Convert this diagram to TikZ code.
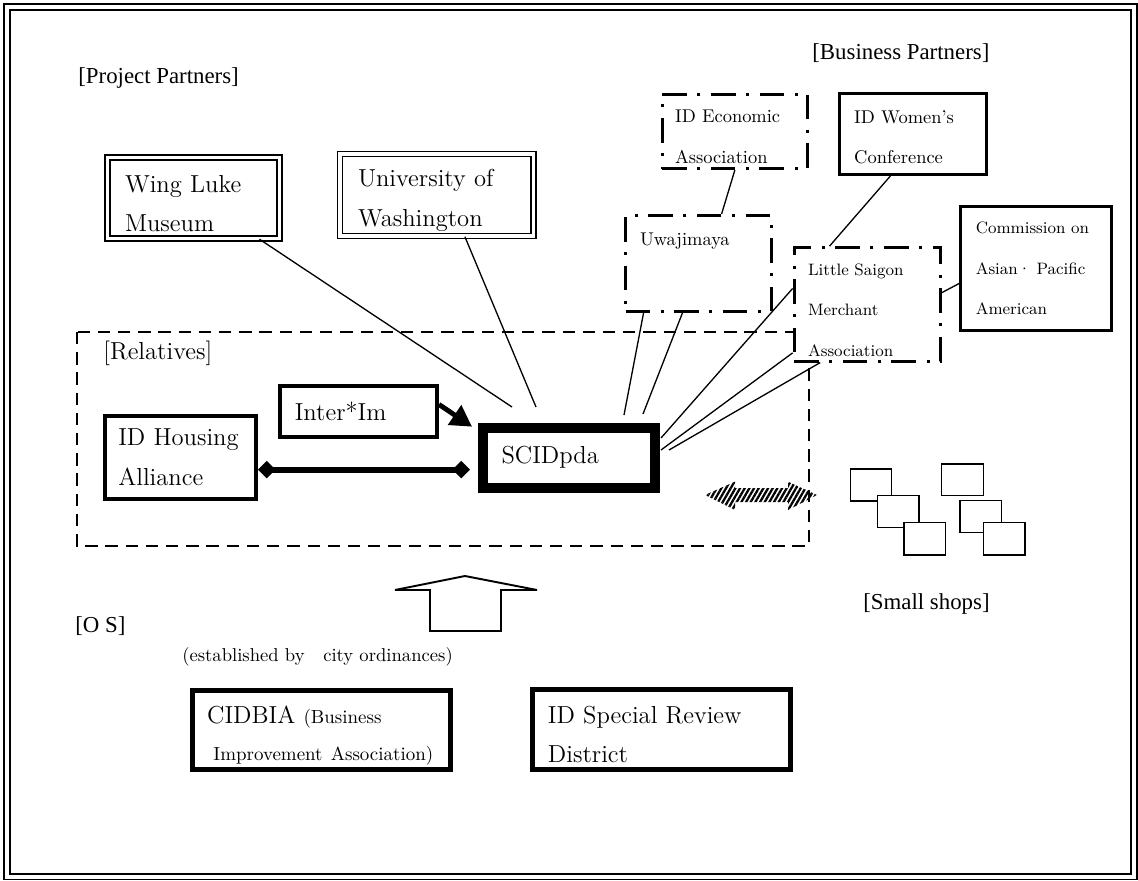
\documentclass[tikz,border=0pt]{standalone}
\usepackage{fontspec}
\newfontfamily\labelfont{Liberation Serif}
\usetikzlibrary{arrows.meta}
\usetikzlibrary{patterns.meta}
\newcommand{\boxfont}{\fontsize{14pt}{22.5pt}\selectfont}
\newcommand{\midfont}{\fontsize{10.5pt}{23.2pt}\selectfont}
\newcommand{\minifont}{\fontsize{9.4pt}{23pt}\selectfont}
\newcommand{\notefont}{\fontsize{10.8pt}{13pt}\selectfont}
\newcommand{\padtop}[1]{\rule{0pt}{#1}}

\begin{document}
\begin{tikzpicture}[x=0.02cm,y=-0.02cm,
  frame/.style={draw,double,line width=1.13pt,double distance=2.27pt},
  partnerbox/.style={draw,double,line width=0.85pt,double distance=2pt,align=left,inner ysep=0pt,font=\boxfont},
  solidbox/.style={draw,line width=1.7pt,align=left,inner ysep=0pt,font=\midfont},
  dotbox/.style={draw,fill=white,line width=1.7pt,dash pattern=on 14pt off 6pt on 1.7pt off 6pt,align=left,inner ysep=0pt,font=\midfont},
  relbox/.style={draw,line width=2pt,align=left,inner ysep=0pt,font=\boxfont},
  osbox/.style={draw,line width=2.8pt,align=left,inner ysep=0pt,font=\boxfont},
  link/.style={line width=0.75pt},
  grouplabel/.style={anchor=base west,inner sep=0pt,font=\labelfont\fontsize{13pt}{15pt}\selectfont},
  shop/.style={draw,fill=white,line width=0.75pt}]
\useasboundingbox (0,0) rectangle (1138,881);

\draw[frame] (7.3,7) rectangle (1134.2,876.5);
\draw[line width=0.85pt,dash pattern=on 7pt off 4.5pt] (77,332) rectangle (809,546);

\node[grouplabel] (projlabel) at (78,84) {[Project Partners]};
\node[grouplabel] (busilabel) at (812,60) {[Business Partners]};
\node[grouplabel,font=\boxfont] (rellabel) at (103,359) {[Relatives]};
\node[grouplabel] (shoplabel) at (863,609) {[Small shops]};
\node[grouplabel] (oslabel) at (75,632.5) {[O S]};
\node[grouplabel,font=\fontsize{10.6pt}{12pt}\selectfont] (estlabel) at (182,661) {(established by\quad city ordinances)};

\node[partnerbox,minimum width=3.44cm,minimum height=1.62cm,inner xsep=0.35cm,text width=2.74cm] (wing) at (193.5,198) {\padtop{16pt}Wing~Luke\\Museum};
\node[partnerbox,minimum width=3.87cm,minimum height=1.64cm,inner xsep=0.36cm,text width=3.15cm] (uw) at (436.75,195) {\padtop{16pt}University~of\\Washington};

\node[dotbox,minimum width=2.91cm,minimum height=1.49cm,inner xsep=0.26cm,text width=2.39cm] (econ) at (734.85,131.35) {\padtop{13pt}ID~Economic\\Association};
\node[solidbox,minimum width=2.94cm,minimum height=1.62cm,inner xsep=0.3cm,text width=2.34cm] (women) at (912.7,134) {\padtop{11pt}ID~Women's\\Conference};
\node[dotbox,minimum width=2.92cm,minimum height=1.92cm,inner xsep=0.29cm,text width=2.34cm] (uwaj) at (698.5,263.5) {Uwajimaya\rule[-28pt]{0pt}{28pt}};
\node[dotbox,font=\minifont,minimum width=2.93cm,minimum height=2.27cm,inner xsep=0.28cm,text width=2.37cm] (saigon) at (867.35,304.35) {\padtop{13pt}Little~Saigon\\Merchant\\Association};
\node[solidbox,font=\minifont,minimum width=3.01cm,minimum height=2.48cm,inner xsep=0.3cm,text width=2.41cm] (comm) at (1036,268.5) {Commission~on\\Asian·~Pacific\\American};

\node[relbox,minimum width=3.03cm,minimum height=1.66cm,inner xsep=0.27cm,text width=2.49cm] (housing) at (180.5,457.35) {ID~Housing\\Alliance};
\node[relbox,minimum width=3.15cm,minimum height=1.03cm,inner xsep=0.3cm,text width=2.55cm] (inter) at (358.5,411.5) {Inter*Im};
\node[relbox,line width=5.7pt,minimum width=3.44cm,minimum height=1.2cm,inner xsep=0.37cm,text width=2.7cm] (scid) at (569,457.7) {SCIDpda};

\node[osbox,font=\fontsize{14pt}{21pt}\selectfont,minimum width=5.15cm,minimum height=1.57cm,inner xsep=0.29cm,text width=4.57cm] (cidbia) at (321.35,730) {\padtop{16pt}CIDBIA{\notefont~(Business}\\{\notefont\hspace*{3.6pt}Improvement~Association)}};
\node[osbox,minimum width=5.17cm,minimum height=1.6cm,inner xsep=0.31cm,text width=4.55cm] (srd) at (661.65,729.2) {\padtop{16pt}ID~Special~Review\\District};

\coordinate (scidA) at (512,407);
\coordinate (scidB) at (536,407);
\coordinate (scidC) at (624,415);
\coordinate (scidD) at (643,414);
\coordinate (scidE) at (661,438);
\coordinate (scidF) at (661,450);
\coordinate (scidG) at (669,450);

\draw[link] (wing.-32) -- (scidA);
\draw[link] (uw.-56) -- (scidB);
\draw[link] (econ.south) -- (uwaj.65);
\draw[link] (women.-118) -- (saigon.123);
\draw[link] (comm.191) -- (saigon.9);
\draw[link] (uwaj.-138) -- (scidC);
\draw[link] (uwaj.-108) -- (scidD);
\draw[link] (saigon.168) -- (scidE);
\draw[link] (saigon.213) -- (scidF);
\draw[link] (saigon.-129) -- (scidG);

\draw[line width=2.8pt,-{Triangle[length=12pt,width=13pt]}] (inter.5) -- ([shift={(-6,4)}]scid.north west);
\draw[line width=3.4pt,{Diamond[length=10pt,width=10pt]}-{Diamond[length=10pt,width=10pt]},shorten >=4.5pt] (housing.-9) -- (housing.-9 -| scid.west);

\fill[pattern={Lines[angle=60,distance=2.3pt,line width=1.3pt]},pattern color=black] (705,495) -- (735,481.7) -- (735,488) -- (788,488) -- (788,481.7) -- (817,495) -- (788,510) -- (788,502) -- (735,502) -- (735,510) -- cycle;

\draw[shop] (850.7,469) rectangle (891.7,501);
\draw[shop] (877.3,495.7) rectangle (919,527.7);
\draw[shop] (904,522.7) rectangle (945.7,555);
\draw[shop] (941.7,464) rectangle (983.3,495.7);
\draw[shop] (960,500.7) rectangle (1001.7,532.7);
\draw[shop] (983.3,522.7) rectangle (1025,555);

\draw[line width=1.1pt] (395,590) -- (465,576) -- (537,590) -- (501,590) -- (501,631) -- (430,631) -- (430,590) -- cycle;

\end{tikzpicture}
\end{document}
